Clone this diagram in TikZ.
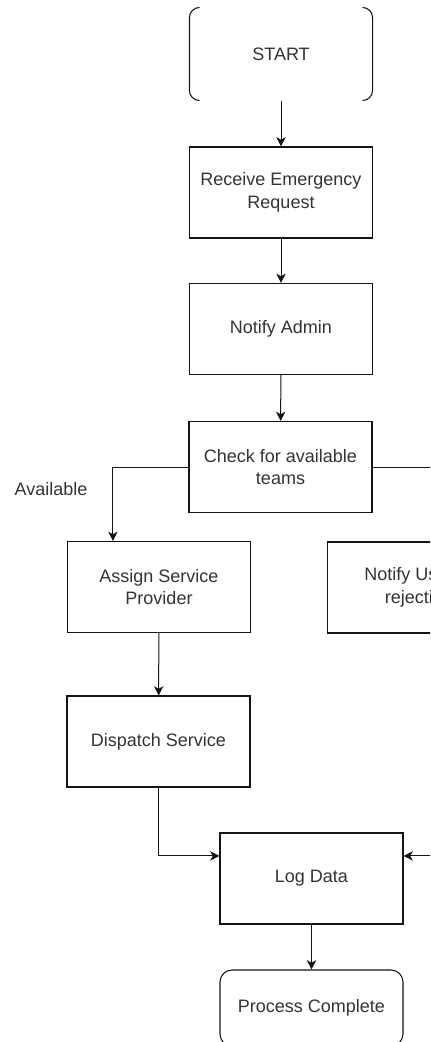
\documentclass[tikz,border=0pt]{standalone}
\usepackage{fontspec}
\setmainfont{Liberation Sans}
\usetikzlibrary{arrows.meta}
\definecolor{txtgray}{RGB}{51,51,51}
\definecolor{linegray}{RGB}{20,20,20}
\tikzset{
  flowbox/.style={draw=linegray, line width=0.8pt, minimum width=137.25pt, minimum height=68.25pt,
    inner sep=0pt, align=center, text=txtgray, font=\fontsize{13.5}{17}\selectfont},
  edgelabel/.style={inner sep=0pt, text=txtgray, font=\fontsize{13.5}{17}\selectfont},
  connector/.style={draw=linegray, line width=0.75pt, -{Stealth[length=7pt,width=7pt,inset=2pt]}}
}
\begin{document}
\begin{tikzpicture}[x=0.75pt,y=0.75pt,yscale=-1,xscale=1]
\useasboundingbox (0,0) rectangle (430,1042);
\clip (0,0) rectangle (430,1042);

%Shape: Rounded Rect [start]
\node [flowbox, draw=none, minimum width=136.5pt, minimum height=69pt] (start) at (281,54) {START};
\draw [linegray, line width=0.8pt, rounded corners=7.5pt] ([xshift=7.5pt]start.north west) -- (start.north west) -- (start.south west) -- ([xshift=7.5pt]start.south west);
\draw [linegray, line width=0.8pt, rounded corners=7.5pt] ([xshift=-7.5pt]start.north east) -- (start.north east) -- (start.south east) -- ([xshift=-7.5pt]start.south east);
%Shape: Rectangle [receive]
\node [flowbox] (receive) at (281,192.5) {Receive Emergency\\Request};
%Shape: Rectangle [admin]
\node [flowbox] (admin) at (281,329) {Notify Admin};
%Shape: Rectangle [check]
\node [flowbox] (check) at (280.5,467) {Check for available\\teams};
%Shape: Rectangle [assign]
\node [flowbox] (assign) at (159,587) {Assign Service\\Provider};
%Shape: Rectangle [notifyuser]
\node [flowbox] (notifyuser) at (419,587.5) {Notify User of\\rejection};
%Shape: Rectangle [dispatch]
\node [flowbox] (dispatch) at (158.5,741.5) {Dispatch Service};
%Shape: Rectangle [logdata]
\node [flowbox] (logdata) at (311.5,878.5) {Log Data};
%Shape: Rounded Rect [complete]
\node [flowbox, rounded corners=9pt, minimum height=57pt] (complete) at (311.5,1008) {Process Complete};

% Text Node
\node [edgelabel] (lblavail) at (51,489) {Available};

%Connectors
\coordinate (assignin) at ([xshift=34.5pt]assign.north west);
\coordinate (logleft) at ([yshift=-16.9pt]logdata.west);
\coordinate (logright) at ([yshift=-16.9pt]logdata.east);
\draw [connector] (start) -- (receive);
\draw [connector] (receive) -- (admin);
\draw [connector] (admin) -- (check);
\draw [connector] (check.west) -| (assignin);
\draw [connector] (check.east) -| ([xshift=30pt]notifyuser.north);
\draw [connector] (assign) -- (dispatch);
\draw [connector] (dispatch.south) |- (logleft);
\draw [connector] (notifyuser.east) -- ++(20pt,0) |- (logright);
\draw [connector] (logdata) -- (complete);

\end{tikzpicture}
\end{document}
